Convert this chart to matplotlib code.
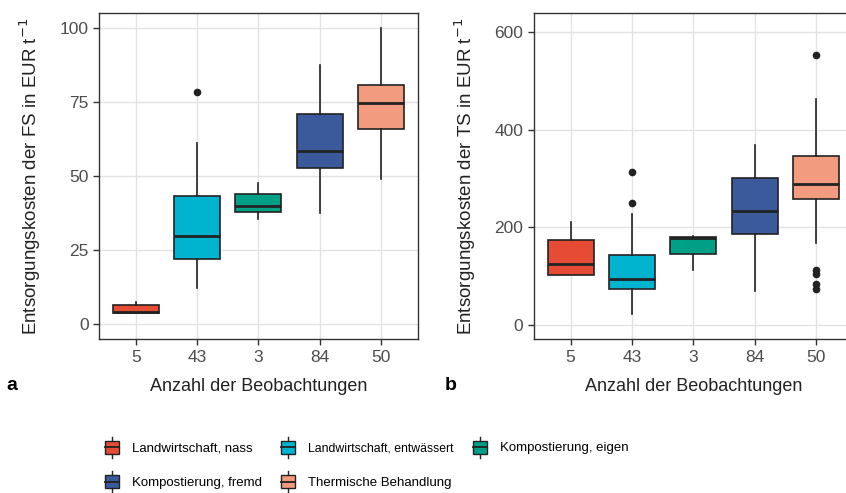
import matplotlib.pyplot as plt
from matplotlib.legend_handler import HandlerBase
from matplotlib.patches import Rectangle
from matplotlib.lines import Line2D

plt.rcParams['font.family'] = ['Liberation Sans', 'DejaVu Sans']

# Gruppen und Farben
gruppen = ["Landwirtschaft, nass", "Landwirtschaft, entwässert", "Kompostierung, eigen",
           "Kompostierung, fremd", "Thermische Behandlung"]
farben = ['#E64B35', '#00B4D0', '#00A087', '#3A5A9C', '#F39B7F']
n_beob = ["5", "43", "3", "84", "50"]

# Kennwerte (unterer Whisker, Q1, Median, Q3, oberer Whisker) - Frischsubstanz
fs_low = [3.8, 12.2, 35.6, 37.5, 49.1]
fs_q1 = [3.8, 22.1, 37.8, 52.9, 65.9]
fs_med = [4.2, 30.0, 40.1, 58.7, 74.7]
fs_q3 = [6.4, 43.5, 44.0, 70.9, 80.9]
fs_high = [7.4, 61.1, 47.9, 87.6, 100.0]
fs_ausreisser = [[], [78.4], [], [], []]

# Trockensubstanz
ts_low = [101, 21, 112, 69, 168]
ts_q1 = [101, 74, 144, 186, 257]
ts_med = [125, 94, 177, 234, 288]
ts_q3 = [173, 142, 180, 301, 346]
ts_high = [211, 228, 182, 368, 463]
ts_ausreisser = [[], [313, 250], [], [], [554, 112, 103, 84, 72]]


def stats(low, q1, med, q3, high, fl):
    return [dict(whislo=low[i], q1=q1[i], med=med[i], q3=q3[i], whishi=high[i], fliers=fl[i])
            for i in range(len(low))]


class BoxHandler(HandlerBase):
    def create_artists(self, legend, orig_handle, xdescent, ydescent, width, height, fontsize, trans):
        fc = orig_handle.get_facecolor()
        w = width
        x0 = -xdescent
        y0 = -ydescent
        cx = x0 + w / 2
        r = Rectangle((x0, y0 + height * 0.1), w, height * 0.8, facecolor=fc,
                      edgecolor='#222222', lw=1.0, transform=trans)
        m = Line2D([x0, x0 + w], [y0 + height / 2] * 2, color='#222222', lw=1.3, transform=trans)
        wt = Line2D([cx, cx], [y0 + height * 0.9, y0 + height * 1.15], color='#222222', lw=1, transform=trans)
        wb = Line2D([cx, cx], [y0 - height * 0.15, y0 + height * 0.1], color='#222222', lw=1, transform=trans)
        return [wt, wb, r, m]


def panel(ax, st, ylim, yticks, ylabel):
    pos = [1, 2, 3, 4, 5]
    bp = ax.bxp(st, positions=pos, widths=0.75, patch_artist=True, showcaps=False,
                boxprops=dict(edgecolor='#222222', linewidth=1.2),
                medianprops=dict(color='#222222', linewidth=2.0),
                whiskerprops=dict(color='#222222', linewidth=1.2),
                flierprops=dict(marker='o', markerfacecolor='#222222', markeredgecolor='#222222',
                                markersize=4.5))
    for p, c in zip(bp['boxes'], farben):
        p.set_facecolor(c)
    ax.set_xlim(0.4, 5.6)
    ax.set_ylim(*ylim)
    ax.set_yticks(yticks)
    ax.set_xticks(pos)
    ax.set_xticklabels(n_beob)
    ax.grid(True, color='#E3E3E3', linewidth=1.0)
    ax.set_axisbelow(True)
    for s in ax.spines.values():
        s.set_color('#333333')
        s.set_linewidth(1.0)
    ax.tick_params(colors='#333333', labelcolor='#4D4D4D', labelsize=12.5, length=4, width=1)
    ax.set_xlabel("Anzahl der Beobachtungen", fontsize=13, color='#222222', labelpad=10)
    ax.set_ylabel(ylabel, fontsize=13.5, color='#222222', labelpad=12)


fig = plt.figure(figsize=(8.46, 4.93), dpi=100)
ax1 = fig.add_axes([0.117, 0.312, 0.377, 0.662])
ax2 = fig.add_axes([0.631, 0.312, 0.377, 0.662])

panel(ax1, stats(fs_low, fs_q1, fs_med, fs_q3, fs_high, fs_ausreisser), (-5, 105.2),
      [0, 25, 50, 75, 100], "Entsorgungskosten der FS in EUR t$^{-1}$")
panel(ax2, stats(ts_low, ts_q1, ts_med, ts_q3, ts_high, ts_ausreisser), (-30, 640),
      [0, 200, 400, 600], "Entsorgungskosten der TS in EUR t$^{-1}$")

fig.text(0.008, 0.208, "a", fontsize=14, fontweight='bold')
fig.text(0.526, 0.208, "b", fontsize=14, fontweight='bold')

handles = [Rectangle((0, 0), 1, 1, facecolor=c) for c in farben]
reihenfolge = [0, 3, 1, 4, 2]
leg = fig.legend([handles[i] for i in reihenfolge], [gruppen[i] for i in reihenfolge],
                 handler_map={Rectangle: BoxHandler()}, ncol=3, frameon=False,
                 loc='center left', bbox_to_anchor=(0.124, 0.058), fontsize=9.5,
                 handlelength=1.06, handleheight=1.5, handletextpad=1.0, columnspacing=1.45,
                 labelspacing=1.4, borderaxespad=0, borderpad=0)
for t in leg.get_texts():
    if "entwässert" in t.get_text():
        t.set_fontsize(8.8)

fig.savefig("out.png", dpi=100)
